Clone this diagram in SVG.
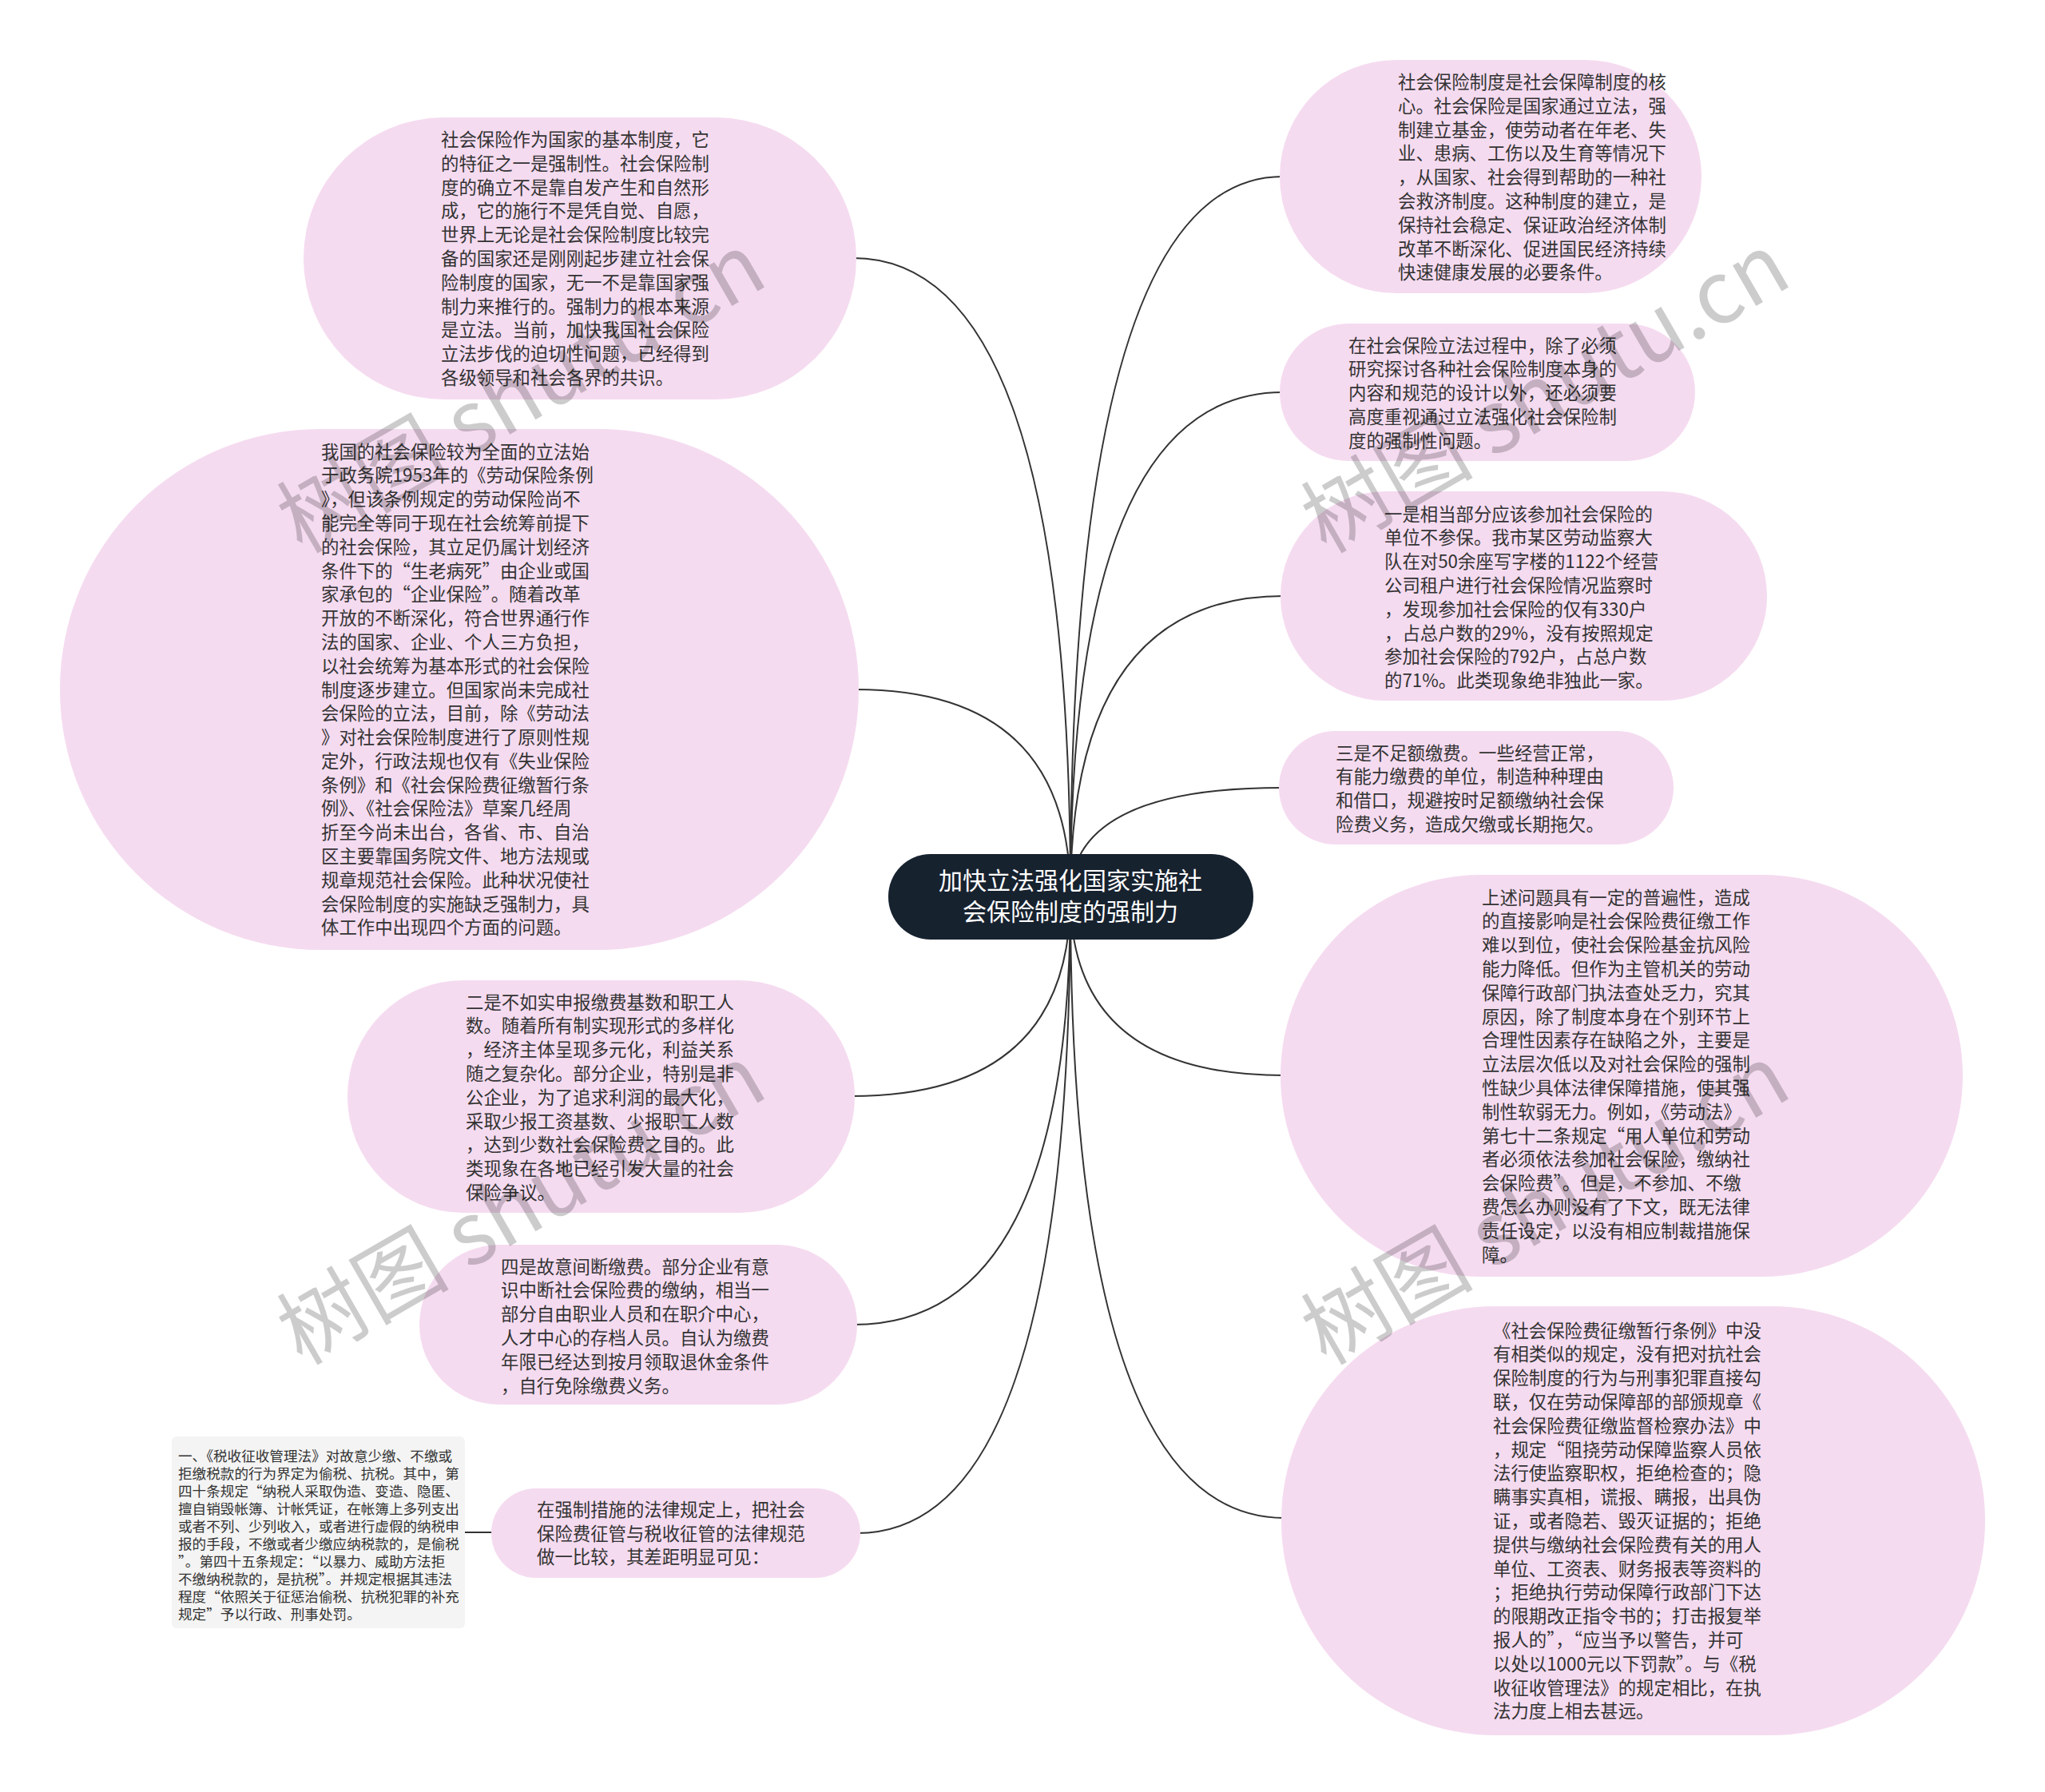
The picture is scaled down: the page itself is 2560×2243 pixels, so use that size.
<svg xmlns="http://www.w3.org/2000/svg" width="2560" height="2243" viewBox="0 0 2560 2243">
<style>
.bg{fill:#ffffff}
.node{fill:#f5dbf0}
.root{fill:#17222f}
.note{fill:#f4f4f4}
.t{font-family:"Noto Sans CJK SC","Noto Sans",sans-serif;font-size:22.4px;fill:#333333}
.tn{font-family:"Noto Sans CJK SC","Noto Sans",sans-serif;font-size:17.6px;fill:#333333}
.tr{font-family:"Noto Sans CJK SC","Noto Sans",sans-serif;font-size:30px;fill:#ffffff;text-anchor:middle}
.conn{fill:none;stroke:#333333;stroke-width:2}
.wm{font-family:"Noto Sans CJK SC","Noto Sans",sans-serif;font-size:108px;fill:#000000;fill-opacity:0.2}
</style>
<rect class="bg" x="0" y="0" width="2560" height="2243"/>
<g id="connectors">
<path class="conn" d="M1340,1122 Q1340,221 1606,221"/>
<path class="conn" d="M1340,1122 Q1340,491 1606,491"/>
<path class="conn" d="M1340,1122 Q1340,746 1607,746"/>
<path class="conn" d="M1340,1122 Q1340,986 1605,986"/>
<path class="conn" d="M1340,1122 Q1340,1346 1607,1346"/>
<path class="conn" d="M1340,1122 Q1340,1900 1608,1900"/>
<path class="conn" d="M1340,1122 Q1340,323 1068,323"/>
<path class="conn" d="M1340,1122 Q1340,863 1071,863"/>
<path class="conn" d="M1340,1122 Q1340,1372 1066,1372"/>
<path class="conn" d="M1340,1122 Q1340,1658 1069,1658"/>
<path class="conn" d="M1340,1122 Q1340,1919 1073,1919"/>
<path class="conn" d="M580,1918 L619,1918"/>
</g>
<g id="n-root">
<rect class="root" x="1112" y="1069" width="457" height="107" rx="53" ry="53"/>
<text class="tr" x="1340" y="1113"><tspan x="1340">加快立法强化国家实施社</tspan><tspan x="1340" dy="39">会保险制度的强制力</tspan></text>
</g>
<g id="n-r1">
<rect class="node" x="1602" y="75" width="528" height="292" rx="146" ry="146"/>
<text class="t" x="1750" y="111"><tspan x="1750">社会保险制度是社会保障制度的核</tspan><tspan x="1750" dy="29.8">心。社会保险是国家通过立法，强</tspan><tspan x="1750" dy="29.8">制建立基金，使劳动者在年老、失</tspan><tspan x="1750" dy="29.8">业、患病、工伤以及生育等情况下</tspan><tspan x="1750" dy="29.8">，从国家、社会得到帮助的一种社</tspan><tspan x="1750" dy="29.8">会救济制度。这种制度的建立，是</tspan><tspan x="1750" dy="29.8">保持社会稳定、保证政治经济体制</tspan><tspan x="1750" dy="29.8">改革不断深化、促进国民经济持续</tspan><tspan x="1750" dy="29.8">快速健康发展的必要条件。</tspan></text>
</g>
<g id="n-r2">
<rect class="node" x="1602" y="405" width="520" height="172" rx="86" ry="86"/>
<text class="t" x="1688" y="440.5"><tspan x="1688">在社会保险立法过程中，除了必须</tspan><tspan x="1688" dy="29.8">研究探讨各种社会保险制度本身的</tspan><tspan x="1688" dy="29.8">内容和规范的设计以外，还必须要</tspan><tspan x="1688" dy="29.8">高度重视通过立法强化社会保险制</tspan><tspan x="1688" dy="29.8">度的强制性问题。</tspan></text>
</g>
<g id="n-r3">
<rect class="node" x="1603" y="615" width="609" height="262" rx="131" ry="131"/>
<text class="t" x="1733" y="651.5"><tspan x="1733">一是相当部分应该参加社会保险的</tspan><tspan x="1733" dy="29.8">单位不参保。我市某区劳动监察大</tspan><tspan x="1733" dy="29.8">队在对50余座写字楼的1122个经营</tspan><tspan x="1733" dy="29.8">公司租户进行社会保险情况监察时</tspan><tspan x="1733" dy="29.8">，发现参加社会保险的仅有330户</tspan><tspan x="1733" dy="29.8">，占总户数的29%，没有按照规定</tspan><tspan x="1733" dy="29.8">参加社会保险的792户，占总户数</tspan><tspan x="1733" dy="29.8">的71%。此类现象绝非独此一家。</tspan></text>
</g>
<g id="n-r4">
<rect class="node" x="1601" y="915" width="494" height="142" rx="71" ry="71"/>
<text class="t" x="1672" y="950.5"><tspan x="1672">三是不足额缴费。一些经营正常，</tspan><tspan x="1672" dy="29.8">有能力缴费的单位，制造种种理由</tspan><tspan x="1672" dy="29.8">和借口，规避按时足额缴纳社会保</tspan><tspan x="1672" dy="29.8">险费义务，造成欠缴或长期拖欠。</tspan></text>
</g>
<g id="n-r5">
<rect class="node" x="1603" y="1095" width="854" height="503" rx="251" ry="251"/>
<text class="t" x="1855" y="1131.5"><tspan x="1855">上述问题具有一定的普遍性，造成</tspan><tspan x="1855" dy="29.8">的直接影响是社会保险费征缴工作</tspan><tspan x="1855" dy="29.8">难以到位，使社会保险基金抗风险</tspan><tspan x="1855" dy="29.8">能力降低。但作为主管机关的劳动</tspan><tspan x="1855" dy="29.8">保障行政部门执法查处乏力，究其</tspan><tspan x="1855" dy="29.8">原因，除了制度本身在个别环节上</tspan><tspan x="1855" dy="29.8">合理性因素存在缺陷之外，主要是</tspan><tspan x="1855" dy="29.8">立法层次低以及对社会保险的强制</tspan><tspan x="1855" dy="29.8">性缺少具体法律保障措施，使其强</tspan><tspan x="1855" dy="29.8">制性软弱无力。例如，《劳动法》</tspan><tspan x="1855" dy="29.8">第七十二条规定“用人单位和劳动</tspan><tspan x="1855" dy="29.8">者必须依法参加社会保险，缴纳社</tspan><tspan x="1855" dy="29.8">会保险费”。但是，不参加、不缴</tspan><tspan x="1855" dy="29.8">费怎么办则没有了下文，既无法律</tspan><tspan x="1855" dy="29.8">责任设定，以没有相应制裁措施保</tspan><tspan x="1855" dy="29.8">障。</tspan></text>
</g>
<g id="n-r6">
<rect class="node" x="1604" y="1635" width="881" height="537" rx="268" ry="268"/>
<text class="t" x="1869" y="1673.5"><tspan x="1869">《社会保险费征缴暂行条例》中没</tspan><tspan x="1869" dy="29.8">有相类似的规定，没有把对抗社会</tspan><tspan x="1869" dy="29.8">保险制度的行为与刑事犯罪直接勾</tspan><tspan x="1869" dy="29.8">联，仅在劳动保障部的部颁规章《</tspan><tspan x="1869" dy="29.8">社会保险费征缴监督检察办法》中</tspan><tspan x="1869" dy="29.8">，规定“阻挠劳动保障监察人员依</tspan><tspan x="1869" dy="29.8">法行使监察职权，拒绝检查的；隐</tspan><tspan x="1869" dy="29.8">瞒事实真相，谎报、瞒报，出具伪</tspan><tspan x="1869" dy="29.8">证，或者隐若、毁灭证据的；拒绝</tspan><tspan x="1869" dy="29.8">提供与缴纳社会保险费有关的用人</tspan><tspan x="1869" dy="29.8">单位、工资表、财务报表等资料的</tspan><tspan x="1869" dy="29.8">；拒绝执行劳动保障行政部门下达</tspan><tspan x="1869" dy="29.8">的限期改正指令书的；打击报复举</tspan><tspan x="1869" dy="29.8">报人的”，“应当予以警告，并可</tspan><tspan x="1869" dy="29.8">以处以1000元以下罚款”。与《税</tspan><tspan x="1869" dy="29.8">收征收管理法》的规定相比，在执</tspan><tspan x="1869" dy="29.8">法力度上相去甚远。</tspan></text>
</g>
<g id="n-l1">
<rect class="node" x="380" y="147" width="692" height="353" rx="176" ry="176"/>
<text class="t" x="552" y="183"><tspan x="552">社会保险作为国家的基本制度，它</tspan><tspan x="552" dy="29.8">的特征之一是强制性。社会保险制</tspan><tspan x="552" dy="29.8">度的确立不是靠自发产生和自然形</tspan><tspan x="552" dy="29.8">成，它的施行不是凭自觉、自愿，</tspan><tspan x="552" dy="29.8">世界上无论是社会保险制度比较完</tspan><tspan x="552" dy="29.8">备的国家还是刚刚起步建立社会保</tspan><tspan x="552" dy="29.8">险制度的国家，无一不是靠国家强</tspan><tspan x="552" dy="29.8">制力来推行的。强制力的根本来源</tspan><tspan x="552" dy="29.8">是立法。当前，加快我国社会保险</tspan><tspan x="552" dy="29.8">立法步伐的迫切性问题，已经得到</tspan><tspan x="552" dy="29.8">各级领导和社会各界的共识。</tspan></text>
</g>
<g id="n-l2">
<rect class="node" x="75" y="537" width="1000" height="652" rx="326" ry="326"/>
<text class="t" x="402" y="573.5"><tspan x="402">我国的社会保险较为全面的立法始</tspan><tspan x="402" dy="29.8">于政务院1953年的《劳动保险条例</tspan><tspan x="402" dy="29.8">》，但该条例规定的劳动保险尚不</tspan><tspan x="402" dy="29.8">能完全等同于现在社会统筹前提下</tspan><tspan x="402" dy="29.8">的社会保险，其立足仍属计划经济</tspan><tspan x="402" dy="29.8">条件下的“生老病死”由企业或国</tspan><tspan x="402" dy="29.8">家承包的“企业保险”。随着改革</tspan><tspan x="402" dy="29.8">开放的不断深化，符合世界通行作</tspan><tspan x="402" dy="29.8">法的国家、企业、个人三方负担，</tspan><tspan x="402" dy="29.8">以社会统筹为基本形式的社会保险</tspan><tspan x="402" dy="29.8">制度逐步建立。但国家尚未完成社</tspan><tspan x="402" dy="29.8">会保险的立法，目前，除《劳动法</tspan><tspan x="402" dy="29.8">》对社会保险制度进行了原则性规</tspan><tspan x="402" dy="29.8">定外，行政法规也仅有《失业保险</tspan><tspan x="402" dy="29.8">条例》和《社会保险费征缴暂行条</tspan><tspan x="402" dy="29.8">例》、《社会保险法》草案几经周</tspan><tspan x="402" dy="29.8">折至今尚未出台，各省、市、自治</tspan><tspan x="402" dy="29.8">区主要靠国务院文件、地方法规或</tspan><tspan x="402" dy="29.8">规章规范社会保险。此种状况使社</tspan><tspan x="402" dy="29.8">会保险制度的实施缺乏强制力，具</tspan><tspan x="402" dy="29.8">体工作中出现四个方面的问题。</tspan></text>
</g>
<g id="n-l3">
<rect class="node" x="435" y="1227" width="635" height="291" rx="145" ry="145"/>
<text class="t" x="583" y="1262.5"><tspan x="583">二是不如实申报缴费基数和职工人</tspan><tspan x="583" dy="29.8">数。随着所有制实现形式的多样化</tspan><tspan x="583" dy="29.8">，经济主体呈现多元化，利益关系</tspan><tspan x="583" dy="29.8">随之复杂化。部分企业，特别是非</tspan><tspan x="583" dy="29.8">公企业，为了追求利润的最大化，</tspan><tspan x="583" dy="29.8">采取少报工资基数、少报职工人数</tspan><tspan x="583" dy="29.8">，达到少数社会保险费之目的。此</tspan><tspan x="583" dy="29.8">类现象在各地已经引发大量的社会</tspan><tspan x="583" dy="29.8">保险争议。</tspan></text>
</g>
<g id="n-l4">
<rect class="node" x="525" y="1558" width="548" height="200" rx="100" ry="100"/>
<text class="t" x="627" y="1593.5"><tspan x="627">四是故意间断缴费。部分企业有意</tspan><tspan x="627" dy="29.8">识中断社会保险费的缴纳，相当一</tspan><tspan x="627" dy="29.8">部分自由职业人员和在职介中心，</tspan><tspan x="627" dy="29.8">人才中心的存档人员。自认为缴费</tspan><tspan x="627" dy="29.8">年限已经达到按月领取退休金条件</tspan><tspan x="627" dy="29.8">，自行免除缴费义务。</tspan></text>
</g>
<g id="n-l5">
<rect class="node" x="615" y="1863" width="462" height="112" rx="56" ry="56"/>
<text class="t" x="672" y="1897.7"><tspan x="672">在强制措施的法律规定上，把社会</tspan><tspan x="672" dy="29.8">保险费征管与税收征管的法律规范</tspan><tspan x="672" dy="29.8">做一比较，其差距明显可见：</tspan></text>
</g>
<g id="n-note">
<rect class="note" x="215" y="1798" width="367" height="240" rx="6" ry="6"/>
<text class="tn" x="223" y="1828.7"><tspan x="223">一、《税收征收管理法》对故意少缴、不缴或</tspan><tspan x="223" dy="22">拒缴税款的行为界定为偷税、抗税。其中，第</tspan><tspan x="223" dy="22">四十条规定“纳税人采取伪造、变造、隐匿、</tspan><tspan x="223" dy="22">擅自销毁帐簿、计帐凭证，在帐簿上多列支出</tspan><tspan x="223" dy="22">或者不列、少列收入，或者进行虚假的纳税申</tspan><tspan x="223" dy="22">报的手段，不缴或者少缴应纳税款的，是偷税</tspan><tspan x="223" dy="22">”。第四十五条规定：“以暴力、威助方法拒</tspan><tspan x="223" dy="22">不缴纳税款的，是抗税”。并规定根据其违法</tspan><tspan x="223" dy="22">程度“依照关于征惩治偷税、抗税犯罪的补充</tspan><tspan x="223" dy="22">规定”予以行政、刑事处罚。</tspan></text>
</g>
<g id="watermarks">
<text class="wm" transform="translate(378,694) rotate(-30)">树图 shutu.cn</text>
<text class="wm" transform="translate(1660,694) rotate(-30)">树图 shutu.cn</text>
<text class="wm" transform="translate(378,1710) rotate(-30)">树图 shutu.cn</text>
<text class="wm" transform="translate(1660,1710) rotate(-30)">树图 shutu.cn</text>
</g>
</svg>
